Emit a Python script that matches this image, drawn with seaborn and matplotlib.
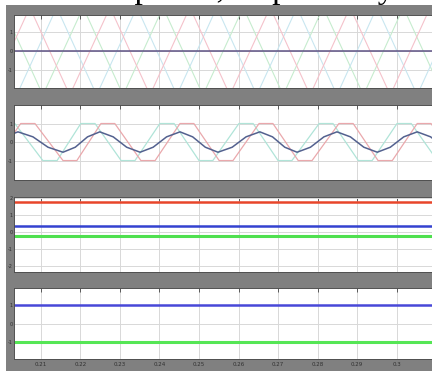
import matplotlib
matplotlib.use("Agg")
import matplotlib.pyplot as plt
from matplotlib.patches import Rectangle
import seaborn as sns

# time window shown (s) and tick positions
t_window = [0.2032, 0.3135]
x_ticks = [0.21, 0.22, 0.23, 0.24, 0.25, 0.26, 0.27, 0.28, 0.29, 0.30]
x_tick_labels = ["0.21", "0.22", "0.23", "0.24", "0.25", "0.26", "0.27", "0.28", "0.29", "0.3"]

# panel 1: three clipped phase waves + dc line
p1_red_t = [0.1971, 0.2072, 0.2173, 0.2275, 0.2376, 0.2477, 0.2578, 0.2680, 0.2781, 0.2882, 0.2984, 0.3085, 0.3186]
p1_red_v = [-2.3, 2.3, -2.3, 2.3, -2.3, 2.3, -2.3, 2.3, -2.3, 2.3, -2.3, 2.3, -2.3]
p1_green_t = [0.1903, 0.2004, 0.2105, 0.2207, 0.2308, 0.2409, 0.2510, 0.2612, 0.2713, 0.2814, 0.2916, 0.3017, 0.3118, 0.3219]
p1_green_v = [-2.3, 2.3, -2.3, 2.3, -2.3, 2.3, -2.3, 2.3, -2.3, 2.3, -2.3, 2.3, -2.3, 2.3]
p1_cyan_t = [0.1938, 0.2039, 0.2140, 0.2241, 0.2343, 0.2444, 0.2545, 0.2646, 0.2748, 0.2849, 0.2950, 0.3052, 0.3153]
p1_cyan_v = [2.3, -2.3, 2.3, -2.3, 2.3, -2.3, 2.3, -2.3, 2.3, -2.3, 2.3, -2.3, 2.3]
p1_dc = 0.0

# panel 2: clipped red / green waves and a blue sine
p2_red_t = [0.1948, 0.1984, 0.2049, 0.2085, 0.2156, 0.2191, 0.2252, 0.2287, 0.2353, 0.2389,
            0.2452, 0.2487, 0.2551, 0.2586, 0.2652, 0.2687, 0.2751, 0.2786, 0.2854, 0.2890,
            0.2953, 0.2989, 0.3052, 0.3087, 0.3153, 0.3189]
p2_red_v = [-1, -1, 1, 1, -1, -1, 1, 1, -1, -1, 1, 1, -1, -1, 1, 1, -1, -1, 1, 1, -1, -1, 1, 1, -1, -1]
p2_green_t = [0.1898, 0.1933, 0.1999, 0.2034, 0.2105, 0.2141, 0.2201, 0.2237, 0.2303, 0.2338,
              0.2401, 0.2437, 0.2500, 0.2535, 0.2601, 0.2637, 0.2700, 0.2735, 0.2804, 0.2839,
              0.2903, 0.2938, 0.3001, 0.3037, 0.3103, 0.3138]
p2_green_v = [-1, -1, 1, 1, -1, -1, 1, 1, -1, -1, 1, 1, -1, -1, 1, 1, -1, -1, 1, 1, -1, -1, 1, 1, -1, -1]
p2_blue_t = [0.1946, 0.1978, 0.2010, 0.2042, 0.2080, 0.2118, 0.2156, 0.2187, 0.2218, 0.2249,
             0.2283, 0.2317, 0.2351, 0.2384, 0.2418, 0.2452, 0.2484, 0.2516, 0.2548, 0.2584,
             0.2619, 0.2654, 0.2686, 0.2717, 0.2748, 0.2782, 0.2816, 0.2849, 0.2883, 0.2917,
             0.2951, 0.2984, 0.3018, 0.3052, 0.3086, 0.3119, 0.3153]
p2_blue_v = [-0.55, -0.28, 0.28, 0.55, 0.28, -0.28, -0.55, -0.28, 0.28, 0.55,
             0.28, -0.28, -0.55, -0.28, 0.28, 0.55, 0.28, -0.28, -0.55, -0.28,
             0.28, 0.55, 0.28, -0.28, -0.55, -0.28, 0.28, 0.55, 0.28, -0.28,
             -0.55, -0.28, 0.28, 0.55, 0.28, -0.28, -0.55]

# panel 3 and 4: steady levels
p3_red = 1.76
p3_blue = 0.35
p3_green = -0.24
p4_blue = 1.0
p4_green = -1.0

sns.set_style("white")
plt.rcParams["font.family"] = ["DejaVu Sans"]

W, H = 432, 371
fig = plt.figure(figsize=(W / 100, H / 100), dpi=100, facecolor="#808080")


def add_panel(top_px, bot_px, ylim, yticks):
    left = 14 / W
    width = (450 - 14) / W
    ax = fig.add_axes([left, (H - bot_px) / H, width, (bot_px - top_px) / H])
    ax.set_facecolor("white")
    ax.set_xlim(t_window)
    ax.set_ylim(ylim)
    ax.set_xticks(x_ticks)
    ax.set_yticks(yticks)
    ax.set_yticklabels([str(v) for v in yticks])
    ax.grid(True, color="#d8d8d8", linewidth=0.7, linestyle="-")
    ax.tick_params(direction="in", length=3, width=0.6, color="#444444",
                   top=True, right=True, labelsize=3.5, labelcolor="#303030", pad=1)
    ax.set_xticklabels([])
    for s in ax.spines.values():
        s.set_color("#505050")
        s.set_linewidth(0.7)
    return ax


ax1 = add_panel(15, 88, (-1.93, 1.9), [-1, 0, 1])
sns.lineplot(x=p1_green_t, y=p1_green_v, ax=ax1, color="#c6ecce", linewidth=0.8)
sns.lineplot(x=p1_cyan_t, y=p1_cyan_v, ax=ax1, color="#c8e6f0", linewidth=0.8)
sns.lineplot(x=p1_red_t, y=p1_red_v, ax=ax1, color="#f5c2cb", linewidth=0.8)
sns.lineplot(x=t_window, y=[p1_dc, p1_dc], ax=ax1, color="#5e5284", linewidth=1.1)

ax2 = add_panel(105, 180, (-2.05, 2.0), [-1, 0, 1])
sns.lineplot(x=p2_green_t, y=p2_green_v, ax=ax2, color="#b0e4d8", linewidth=0.9)
sns.lineplot(x=p2_red_t, y=p2_red_v, ax=ax2, color="#eaa8ac", linewidth=0.9)
sns.lineplot(x=p2_blue_t, y=p2_blue_v, ax=ax2, color="#53618f", linewidth=1.1)

ax3 = add_panel(197, 272, (-2.35, 2.06), [-2, -1, 0, 1, 2])
sns.lineplot(x=t_window, y=[p3_red, p3_red], ax=ax3, color="#e8452a", linewidth=1.8)
sns.lineplot(x=t_window, y=[p3_blue, p3_blue], ax=ax3, color="#3442d0", linewidth=1.8)
sns.lineplot(x=t_window, y=[p3_green, p3_green], ax=ax3, color="#4fe04f", linewidth=2.2)

ax4 = add_panel(288, 359, (-1.92, 1.92), [-1, 0, 1])
sns.lineplot(x=t_window, y=[p4_blue, p4_blue], ax=ax4, color="#4848d8", linewidth=1.8)
sns.lineplot(x=t_window, y=[p4_green, p4_green], ax=ax4, color="#55e655", linewidth=2.2)
ax4.set_xticklabels(x_tick_labels)
ax4.tick_params(axis="x", labelsize=4, pad=2.5)

for ax in (ax1, ax2, ax3, ax4):
    ax.set_xlim(t_window)
    ax.set_xlabel("")
    ax.set_ylabel("")

# page margin (white) on the top and left
fig.patches.append(Rectangle((0, 0), 6 / W, 1, transform=fig.transFigure,
                             facecolor="white", edgecolor="none", zorder=10))
fig.patches.append(Rectangle((0, (H - 5) / H), 1, 5 / H, transform=fig.transFigure,
                             facecolor="white", edgecolor="none", zorder=10))
# cut-off caption line above the figure (only descenders show)
fig.text(-25 / W, 1.0 + 2 / H, "current and power, respectively", family="Liberation Serif",
         fontsize=24, va="baseline", ha="left", color="black", zorder=11)

fig.savefig("out.png", dpi=100, facecolor=fig.get_facecolor())
